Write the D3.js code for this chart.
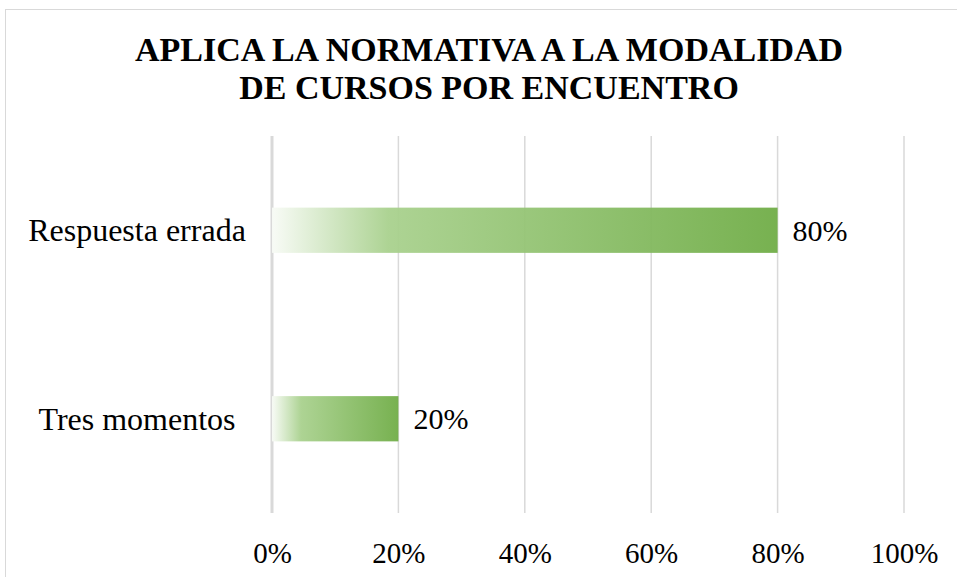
<!DOCTYPE html>
<html>
<head>
<meta charset="utf-8">
<script src="https://cdn.jsdelivr.net/npm/d3@7"></script>
<style>
    body { margin: 0; background: #fff; }
    svg { display: block; font-family: "Liberation Serif", "Times New Roman", serif; }
</style>
</head>
<body>
<div id="chart"></div>
<script>
const titleLines = ["APLICA LA NORMATIVA A LA MODALIDAD", "DE CURSOS POR ENCUENTRO"];
const categories = ["Respuesta errada", "Tres momentos"];
const values = [0.8, 0.2];
const tickValues = [0, 0.2, 0.4, 0.6, 0.8, 1.0];

const width = 957, height = 577;
const plot = { left: 272, right: 904, top: 136, bottom: 513 };

const svg = d3.select("#chart").append("svg")
    .attr("width", width)
    .attr("height", height);

// Chart frame (runs past the right and bottom edges)
svg.append("rect")
    .attr("x", 5.5).attr("y", 9.5)
    .attr("width", width + 10).attr("height", height + 10)
    .style("fill", "#fff")
    .style("stroke", "#d9d9d9");

// Title
svg.append("g").selectAll("text")
    .data(titleLines)
    .enter().append("text")
    .attr("x", 489)
    .attr("y", (d, i) => 61 + i * 38)
    .attr("text-anchor", "middle")
    .style("font-weight", "bold")
    .style("font-size", "34px")
    .style("fill", "#000")
    .text(d => d);

const x = d3.scaleLinear().domain([0, 1]).range([plot.left, plot.right]);
const y = d3.scaleBand()
    .domain(categories)
    .range([plot.top, plot.bottom])
    .paddingInner(0.76)
    .paddingOuter(0.38);

// Gradient fill
const defs = svg.append("defs");
const grad = defs.append("linearGradient")
    .attr("id", "barGrad")
    .attr("x1", "0%").attr("x2", "100%")
    .attr("y1", "0%").attr("y2", "0%");
grad.append("stop").attr("offset", "0%").attr("stop-color", "#f8fbf6");
grad.append("stop").attr("offset", "23%").attr("stop-color", "#a9d18e");
grad.append("stop").attr("offset", "100%").attr("stop-color", "#70ad47");

// Gridlines
svg.append("g").selectAll("line")
    .data(tickValues)
    .enter().append("line")
    .attr("x1", d => x(d)).attr("x2", d => x(d))
    .attr("y1", plot.top).attr("y2", plot.bottom)
    .style("stroke", "#d9d9d9")
    .style("stroke-width", d => d === 0 ? 3 : 1.5);

// Bars
svg.append("g").selectAll("rect")
    .data(values)
    .enter().append("rect")
    .attr("x", x(0))
    .attr("y", (d, i) => y(categories[i]))
    .attr("width", d => x(d) - x(0))
    .attr("height", y.bandwidth())
    .style("fill", "url(#barGrad)")
    .style("fill-opacity", 0.95);

// Value labels
svg.append("g").selectAll("text")
    .data(values)
    .enter().append("text")
    .attr("x", d => x(d) + 15)
    .attr("y", (d, i) => y(categories[i]) + y.bandwidth() / 2)
    .attr("dy", "0.35em")
    .style("font-size", "30px")
    .text(d => d3.format(".0%")(d));

// Category labels
svg.append("g").selectAll("text")
    .data(categories)
    .enter().append("text")
    .attr("x", 137)
    .attr("y", d => y(d) + y.bandwidth() / 2)
    .attr("dy", "0.35em")
    .attr("text-anchor", "middle")
    .style("font-size", "32px")
    .text(d => d);

// X axis tick labels
const xAxis = svg.append("g")
    .attr("transform", `translate(0,${plot.bottom})`)
    .call(d3.axisBottom(x).tickValues(tickValues).tickFormat(d3.format(".0%")).tickSize(0).tickPadding(29));
xAxis.select(".domain").remove();
xAxis.selectAll("text")
    .style("font-family", "Liberation Serif, Times New Roman, serif")
    .style("font-size", "29px")
    .style("fill", "#000");
</script>
</body>
</html>
